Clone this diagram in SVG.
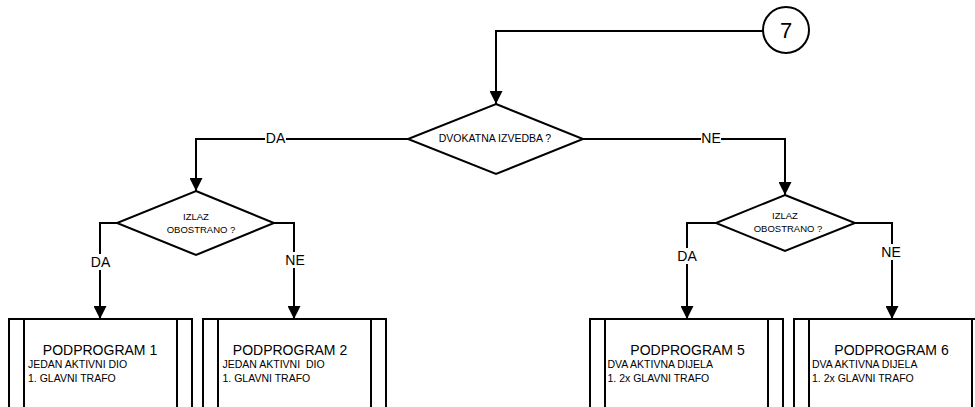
<svg xmlns="http://www.w3.org/2000/svg" width="975" height="407" viewBox="0 0 975 407">
<defs>
<style>
.ln{fill:none;stroke:#000;stroke-width:2}
.sh{fill:#fff;stroke:#000;stroke-width:2}
.t{font-family:"Liberation Sans",Arial,sans-serif;fill:#000}
.lab{font-size:14px;text-anchor:middle}
.q{font-size:9.5px;text-anchor:middle}
.h{font-size:14px;text-anchor:middle}
.s{font-size:10.5px;white-space:pre}
.bg{fill:#fff;stroke:none}
</style>
<marker id="arr" markerUnits="userSpaceOnUse" markerWidth="13" markerHeight="13" viewBox="0 0 13 13" refX="13" refY="6.5" orient="auto">
<path d="M0,0 L13,6.5 L0,13 z" fill="#000"/>
</marker>
</defs>
<rect width="975" height="407" fill="#fff"/>
<g id="connectors">
<path class="ln" d="M763,31 H496 V104" marker-end="url(#arr)"/>
<path class="ln" d="M408,139 H196 V191" marker-end="url(#arr)"/>
<path class="ln" d="M583,139 H785 V195" marker-end="url(#arr)"/>
<path class="ln" d="M117,223 H100 V319" marker-end="url(#arr)"/>
<path class="ln" d="M274,223 H294 V319" marker-end="url(#arr)"/>
<path class="ln" d="M716,223 H687 V319" marker-end="url(#arr)"/>
<path class="ln" d="M855,223 H892 V319" marker-end="url(#arr)"/>
<rect class="bg" x="265" y="131" width="21" height="15"/>
<text class="t lab" x="275.5" y="143">DA</text>
<rect class="bg" x="701" y="131" width="20" height="15"/>
<text class="t lab" x="711" y="143">NE</text>
<rect class="bg" x="90" y="254" width="21" height="16"/>
<text class="t lab" x="100.5" y="267">DA</text>
<rect class="bg" x="285" y="252" width="20" height="16"/>
<text class="t lab" x="295" y="265">NE</text>
<rect class="bg" x="676.5" y="248" width="21" height="16"/>
<text class="t lab" x="687" y="261">DA</text>
<rect class="bg" x="881" y="244" width="20" height="16"/>
<text class="t lab" x="891" y="257">NE</text>
</g>
<g id="connector7">
<circle class="sh" cx="786" cy="30" r="23"/>
<text class="t" x="786" y="38" font-size="22" text-anchor="middle">7</text>
</g>
<g id="dvokatna">
<polygon class="sh" points="496,104 583,139 496,174 408,139"/>
<text class="t" x="495" y="142" font-size="10.5" text-anchor="middle">DVOKATNA IZVEDBA ?</text>
</g>
<g id="izlaz-left">
<polygon class="sh" points="196,191 274,223 196,255 117,223"/>
<text class="t q" x="196" y="220">IZLAZ</text>
<text class="t q" x="201" y="233">OBOSTRANO ?</text>
</g>
<g id="izlaz-right">
<polygon class="sh" points="785,195 855,223 785,251 716,223"/>
<text class="t q" x="785" y="219">IZLAZ</text>
<text class="t q" x="788" y="232">OBOSTRANO ?</text>
</g>
<g id="podprogram1">
<rect class="sh" x="9" y="319" width="183" height="100"/>
<path class="ln" d="M24,319 V419 M177,319 V419"/>
<text class="t h" x="100" y="355">PODPROGRAM 1</text>
<text class="t s" x="28" y="368">JEDAN AKTIVNI DIO</text>
<text class="t s" x="28" y="382">1. GLAVNI TRAFO</text>
</g>
<g id="podprogram2">
<rect class="sh" x="203" y="319" width="183" height="100"/>
<path class="ln" d="M218,319 V419 M371,319 V419"/>
<text class="t h" x="290" y="355">PODPROGRAM 2</text>
<text class="t s" x="222.5" y="368">JEDAN AKTIVNI  DIO</text>
<text class="t s" x="222.5" y="382">1. GLAVNI TRAFO</text>
</g>
<g id="podprogram5">
<rect class="sh" x="590" y="319" width="193" height="100"/>
<path class="ln" d="M605,319 V419 M768,319 V419"/>
<text class="t h" x="687.5" y="355">PODPROGRAM 5</text>
<text class="t s" x="607.5" y="368">DVA AKTIVNA DIJELA</text>
<text class="t s" x="607.5" y="382">1. 2x GLAVNI TRAFO</text>
</g>
<g id="podprogram6">
<rect class="sh" x="794" y="319" width="193" height="100"/>
<path class="ln" d="M809,319 V419 M972,319 V419"/>
<text class="t h" x="891.5" y="355">PODPROGRAM 6</text>
<text class="t s" x="812" y="368">DVA AKTIVNA DIJELA</text>
<text class="t s" x="812" y="382">1. 2x GLAVNI TRAFO</text>
</g>
</svg>
